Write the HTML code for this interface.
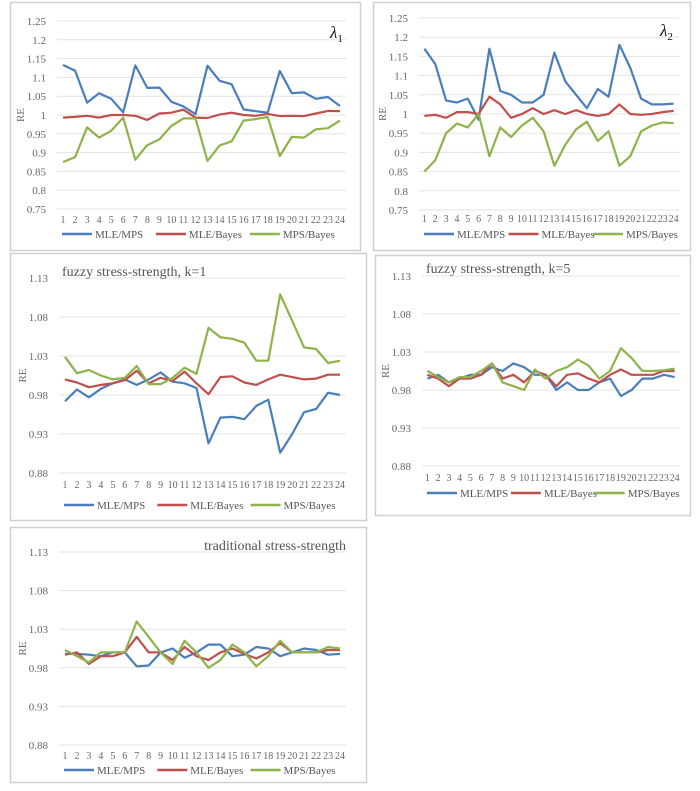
<!DOCTYPE html>
<html><head><meta charset="utf-8">
<style>
html,body{margin:0;padding:0;background:#fff;}
svg{display:block;font-family:"Liberation Serif",serif;}
</style></head>
<body>
<svg id="c" width="700" height="791" viewBox="0 0 700 791"></svg>
<script>
const categories = [1,2,3,4,5,6,7,8,9,10,11,12,13,14,15,16,17,18,19,20,21,22,23,24];
const seriesNames = ["MLE/MPS","MLE/Bayes","MPS/Bayes"];
const colors = ["#4a7ebb","#c0504d","#8db34a"];
const ticksA = [1.25,1.2,1.15,1.1,1.05,1,0.95,0.9,0.85,0.8,0.75];
const ticksB = [1.13,1.08,1.03,0.98,0.93,0.88];

const p1MleMps = [1.133,1.118,1.033,1.058,1.043,1.007,1.132,1.072,1.073,1.035,1.023,1.002,1.131,1.091,1.082,1.015,1.010,1.006,1.117,1.058,1.060,1.043,1.048,1.024];
const p1MleBayes = [0.993,0.995,0.998,0.993,1.0,1.0,0.998,0.987,1.004,1.006,1.014,0.993,0.992,1.001,1.006,1.0,0.998,1.003,0.997,0.998,0.997,1.004,1.011,1.010];
const p1MpsBayes = [0.875,0.888,0.967,0.940,0.958,0.993,0.881,0.920,0.935,0.971,0.991,0.991,0.878,0.919,0.930,0.985,0.989,0.995,0.891,0.942,0.940,0.962,0.965,0.985];

const p2MleMps = [1.17,1.13,1.035,1.03,1.04,0.985,1.17,1.06,1.05,1.03,1.03,1.05,1.16,1.085,1.05,1.015,1.065,1.045,1.18,1.12,1.04,1.025,1.025,1.027];
const p2MleBayes = [0.995,0.998,0.99,1.005,1.005,1.0,1.045,1.025,0.99,1.0,1.015,1.0,1.01,1.0,1.01,1.0,0.995,1.0,1.025,1.0,0.998,1.0,1.005,1.008];
const p2MpsBayes = [0.85,0.88,0.95,0.975,0.965,1.0,0.89,0.965,0.94,0.97,0.99,0.955,0.865,0.92,0.96,0.98,0.93,0.955,0.865,0.89,0.955,0.97,0.978,0.976];

const p3MleMps = [0.972,0.987,0.977,0.988,0.995,1.0,0.993,1.0,1.009,0.997,0.995,0.989,0.918,0.951,0.952,0.949,0.966,0.974,0.906,0.93,0.958,0.962,0.983,0.98];
const p3MleBayes = [1.0,0.996,0.99,0.993,0.995,0.999,1.011,0.995,1.002,0.998,1.01,0.995,0.981,1.003,1.004,0.996,0.993,1.0,1.006,1.003,1.0,1.001,1.006,1.006];
const p3MpsBayes = [1.029,1.008,1.012,1.005,1.0,1.002,1.017,0.994,0.994,1.002,1.015,1.007,1.066,1.054,1.052,1.047,1.024,1.024,1.109,1.075,1.041,1.039,1.021,1.024];

const p4MleMps = [0.995,1.0,0.99,0.995,1.0,1.0,1.01,1.005,1.015,1.01,1.0,1.0,0.98,0.99,0.98,0.98,0.99,0.995,0.972,0.98,0.995,0.995,1.0,0.997];
const p4MleBayes = [1.0,0.995,0.985,0.995,0.995,1.0,1.015,0.995,1.0,0.99,1.005,1.0,0.985,1.0,1.002,0.995,0.99,1.0,1.007,1.0,1.0,1.0,1.005,1.005];
const p4MpsBayes = [1.005,0.997,0.99,0.997,0.997,1.005,1.015,0.99,0.985,0.98,1.007,0.995,1.005,1.01,1.02,1.012,0.995,1.005,1.035,1.022,1.005,1.005,1.006,1.008];

const p5MleMps = [0.998,0.998,0.997,0.995,1.0,1.0,0.982,0.983,1.0,1.005,0.993,1.0,1.01,1.01,0.995,0.997,1.007,1.005,0.995,1.0,1.005,1.003,0.997,0.998];
const p5MleBayes = [0.997,1.0,0.985,0.995,0.995,1.0,1.02,1.0,1.0,0.99,1.007,0.995,0.99,1.0,1.005,0.998,0.992,1.0,1.012,1.0,1.0,1.0,1.003,1.003];
const p5MpsBayes = [1.003,0.995,0.987,1.0,1.0,1.0,1.04,1.02,1.0,0.985,1.015,1.0,0.98,0.99,1.01,1.0,0.982,0.995,1.015,1.0,1.0,1.0,1.007,1.005];

const panels = [
 {name:"lambda1",box:[10,2,350,248],x0:57,x1:346,yTop:21,yBot:209,ticks:ticksA,tlx:46,xly:223,legy:238,title:"λ",sub:"1",tx:330,ty:38,series:[p1MleMps,p1MleBayes,p1MpsBayes]},
 {name:"lambda2",box:[373,2,317,248],x0:419,x1:679,yTop:18,yBot:210,ticks:ticksA,tlx:408,xly:222,legy:238,title:"λ",sub:"2",tx:660,ty:36,series:[p2MleMps,p2MleBayes,p2MpsBayes]},
 {name:"fuzzy-k1",box:[10,253,356,267],x0:59,x1:346,yTop:278,yBot:473,ticks:ticksB,tlx:48,xly:488,legy:509,title:"fuzzy stress-strength, k=1",tx:62,ty:276,anchor:"start",series:[p3MleMps,p3MleBayes,p3MpsBayes]},
 {name:"fuzzy-k5",box:[375,255,315,260],x0:422,x1:680,yTop:276,yBot:466,ticks:ticksB,tlx:411,xly:481,legy:497,title:"fuzzy stress-strength, k=5",tx:426,ty:273,anchor:"start",series:[p4MleMps,p4MleBayes,p4MpsBayes]},
 {name:"traditional",box:[10,527,356,255],x0:59,x1:346,yTop:552,yBot:745,ticks:ticksB,tlx:48,xly:759,legy:774,title:"traditional stress-strength",tx:346,ty:550,anchor:"end",series:[p5MleMps,p5MleBayes,p5MpsBayes]}
];

const NS="http://www.w3.org/2000/svg";
const svg=document.getElementById('c');
function mk(tag,attrs,parent){const e=document.createElementNS(NS,tag);for(const k in attrs)e.setAttribute(k,attrs[k]);(parent||svg).appendChild(e);return e;}

panels.forEach(p=>{
  const g=mk('g',{});
  
  
  const b=mk('rect',{x:p.box[0]+.5,y:p.box[1]+.5,width:p.box[2],height:p.box[3],fill:'#fff',stroke:'#d0d0d0','stroke-width':1.5},g);
  
  
  const tmax=p.ticks[0],tmin=p.ticks[p.ticks.length-1];
  const yS=v=>p.yTop+(tmax-v)/(tmax-tmin)*(p.yBot-p.yTop);
  const step=(p.x1-p.x0)/categories.length;
  const xS=i=>p.x0+(i+0.5)*step;
  p.ticks.forEach(t=>{
    const l=mk('line',{x1:p.x0,x2:p.x1,y1:yS(t),y2:yS(t),stroke:'#e3e3e3','stroke-width':1},g);
    
    
    const tx=mk('text',{x:p.tlx,y:yS(t)+4,'text-anchor':'end','font-size':11,fill:'#666'},g);
    tx.textContent=String(t);
    
    
  });
  const yl=mk('text',{x:0,y:0,'font-size':11,fill:'#666','text-anchor':'middle',transform:`translate(${p.tlx-22},${(p.yTop+p.yBot)/2}) rotate(-90)`},g);
  yl.textContent='RE';
  
  
  categories.forEach((c,i)=>{
    const t=mk('text',{x:xS(i),y:p.xly,'text-anchor':'middle','font-size':10,fill:'#666'},g);
    t.textContent=String(c);
    
    
  });
  p.series.forEach((s,k)=>{
    const pts=s.map((v,i)=>xS(i).toFixed(1)+','+yS(v).toFixed(1)).join(' ');
    const pl=mk('polyline',{points:pts,fill:'none',stroke:colors[k],'stroke-width':2.2,'stroke-linejoin':'round'},g);
    
    
  });
  const W=p.x1-p.x0;
  seriesNames.forEach((n,k)=>{
    const lx=p.x0+5+k*W*0.325;
    const ll=mk('line',{x1:lx,x2:lx+30,y1:p.legy-4,y2:p.legy-4,stroke:colors[k],'stroke-width':2.5},g);
    
    
    const lt=mk('text',{x:lx+33,y:p.legy,'font-size':11,fill:'#555'},g);
    lt.textContent=n;
    
    
  });
  const tt=mk('text',{x:p.tx,y:p.ty,'text-anchor':p.anchor||'start','font-size':p.sub?17:14,fill:p.sub?'#111':'#555','font-style':p.sub?'italic':'normal'},g);
  tt.textContent=p.title;
  if(p.sub){const ts=mk('tspan',{'font-size':11,'font-style':'normal',dy:4},tt);ts.textContent=p.sub;}
  
  
});
</script>
</body></html>
